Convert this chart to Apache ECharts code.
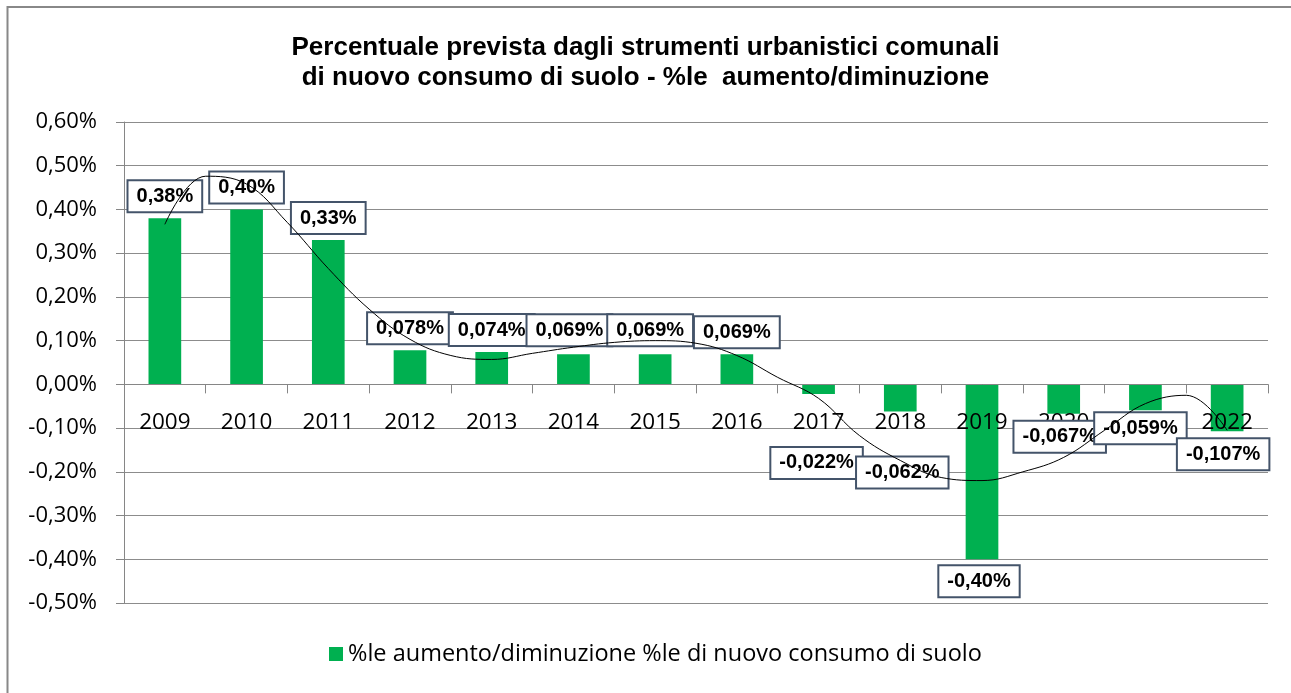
<!DOCTYPE html>
<html>
<head>
<meta charset="utf-8">
<script src="https://cdn.jsdelivr.net/npm/echarts@6/dist/echarts.min.js"></script>
<style>
  html, body { margin: 0; padding: 0; background: #fff; }
  #chart { width: 1291px; height: 693px; }
</style>
</head>
<body>
<div id="chart"></div>
<script>
// anni e valori (in %)
const years = ['2009', '2010', '2011', '2012', '2013', '2014', '2015', '2016', '2017', '2018', '2019', '2020', '2021', '2022'];
const values = [0.38, 0.40, 0.33, 0.078, 0.074, 0.069, 0.069, 0.069, -0.022, -0.062, -0.40, -0.067, -0.059, -0.107];
// linea di tendenza (posizione categoria, valore)
const trendX = [0, 0.5, 1, 1.5, 2, 2.5, 3, 3.5, 4, 4.5, 5, 5.5, 6, 6.5, 7, 7.5, 8, 8.5, 9, 9.5, 10, 10.5, 11, 11.5, 12, 12.5, 13];
const trendY = [0.366, 0.476, 0.458, 0.37, 0.265, 0.172, 0.103, 0.066, 0.057, 0.071, 0.085, 0.096, 0.10, 0.094, 0.066, 0.016, -0.032, -0.117, -0.174, -0.213, -0.22, -0.20, -0.167, -0.105, -0.044, -0.025, -0.105];
const yTicks = { min: -0.5, max: 0.6, step: 0.1 };

// spostamenti delle etichette come nel grafico originale
const labelNudge = [[0, 0], [0, 0], [0, 0], [0, 0], [0, 0], [-4, -2], [-5, -2], [0, 0],
  [-2, 47], [2, 39], [-3, 0], [-4, 1], [-5, -4], [-4, 1]];

const serieName = '%le aumento/diminuzione %le di nuovo consumo di suolo';

function fmtPct(v, dec) {
  if (Math.abs(v) < 1e-9) v = 0;
  return v.toFixed(dec).replace('.', ',') + '%';
}

let myChart = echarts.init(document.getElementById('chart'));

const labelData = values.map((v, i) => ({
  value: v,
  label: { offset: labelNudge[i] }
}));

const gridBox = { left: 124, right: 23, top: 122, height: 481 };

myChart.setOption({
  animation: false,
  title: {
    text: 'Percentuale prevista dagli strumenti urbanistici comunali\ndi nuovo consumo di suolo - %le  aumento/diminuzione',
    left: 'center',
    top: 28,
    textStyle: {
      fontFamily: 'Liberation Sans',
      fontWeight: 'bold',
      fontSize: 26,
      lineHeight: 30,
      color: '#000'
    }
  },
  graphic: [{
    type: 'rect',
    shape: { x: 7.5, y: 7, width: 1320, height: 720 },
    style: { fill: 'none', stroke: '#888', lineWidth: 2 },
    silent: true
  }],
  legend: {
    bottom: 22,
    left: 324,
    itemWidth: 14,
    itemHeight: 14,
    itemGap: 10,
    icon: 'rect',
    textStyle: { fontFamily: 'Open Sans', fontSize: 23.5, color: '#000' },
    data: [serieName]
  },
  // secondo grid sovrapposto, solo per la linea di tendenza
  grid: [Object.assign({}, gridBox), Object.assign({}, gridBox)],
  xAxis: [
    {
      type: 'category',
      gridIndex: 0,
      z: 3,
      data: years,
      axisLine: { onZero: true, lineStyle: { color: '#868686', width: 1 } },
      axisTick: { show: true, length: 9, lineStyle: { color: '#868686' } },
      // le etichette restano sul bordo del grid: le riporto sotto lo zero
      axisLabel: { fontFamily: 'Open Sans', fontSize: 22.5, color: '#000', margin: -192 }
    },
    {
      type: 'value',
      gridIndex: 1,
      min: -0.5,
      max: 13.5,
      show: false
    }
  ],
  yAxis: [
    {
      type: 'value',
      gridIndex: 0,
      min: yTicks.min,
      max: yTicks.max,
      interval: yTicks.step,
      axisLine: { show: true, lineStyle: { color: '#868686' } },
      axisTick: { show: true, length: 8, lineStyle: { color: '#868686' } },
      axisLabel: {
        fontFamily: 'Open Sans',
        fontSize: 22,
        color: '#000',
        margin: 27,
        formatter: v => fmtPct(v, 2)
      },
      splitLine: { lineStyle: { color: '#8c8c8c', width: 1 } }
    },
    {
      type: 'value',
      gridIndex: 1,
      min: yTicks.min,
      max: yTicks.max,
      show: false
    }
  ],
  series: [
    {
      name: serieName,
      type: 'bar',
      barWidth: '40%',
      z: 2,
      itemStyle: { color: '#00B050' },
      data: values
    },
    {
      // stesse barre, trasparenti, solo per le etichette sopra l'asse
      name: 'etichette',
      type: 'bar',
      barWidth: '40%',
      barGap: '-100%',
      z: 5,
      silent: true,
      itemStyle: { color: 'rgba(0,0,0,0)' },
      data: labelData,
      label: {
        show: true,
        position: 'outside',
        distance: 7,
        fontFamily: 'Liberation Sans',
        fontWeight: 'bold',
        fontSize: 20,
        color: '#000',
        backgroundColor: '#fff',
        borderColor: '#44546A',
        borderWidth: 2,
        padding: [5, 8, 5, 8],
        formatter: p => {
          const v = p.value;
          const dec = Math.abs(Math.round(v * 100) - v * 100) < 1e-9 ? 2 : 3;
          return fmtPct(v, dec);
        }
      }
    },
    {
      name: 'tendenza',
      type: 'line',
      xAxisIndex: 1,
      yAxisIndex: 1,
      smooth: 0.4,
      showSymbol: false,
      z: 10,
      lineStyle: { color: '#000', width: 1 },
      data: trendX.map((x, i) => [x, trendY[i]])
    }
  ]
});
</script>
</body>
</html>
